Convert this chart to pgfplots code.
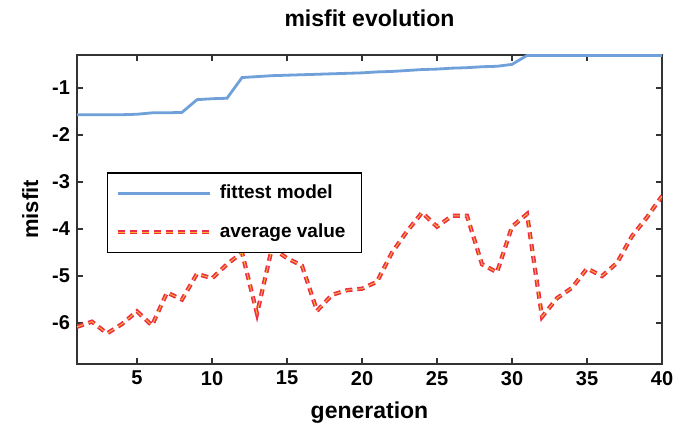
\documentclass[border=0pt]{standalone}
\usepackage{pgfplots}
\pgfplotsset{compat=1.18}
\usepackage{fontspec}
\setmainfont{Liberation Sans}

\definecolor{fitblue}{RGB}{112,160,218}
\definecolor{avgred}{RGB}{236,45,70}
\definecolor{avgyellow}{RGB}{250,175,55}

\pgfplotstableread{
gen fit
1  -1.57
2  -1.57
3  -1.57
4  -1.57
5  -1.56
6  -1.53
7  -1.53
8  -1.52
9  -1.25
10 -1.23
11 -1.22
12 -0.78
13 -0.76
14 -0.74
15 -0.73
16 -0.72
17 -0.71
18 -0.70
19 -0.69
20 -0.68
21 -0.66
22 -0.65
23 -0.63
24 -0.61
25 -0.60
26 -0.58
27 -0.57
28 -0.55
29 -0.54
30 -0.50
31 -0.31
32 -0.31
33 -0.31
34 -0.31
35 -0.31
36 -0.31
37 -0.31
38 -0.31
39 -0.31
40 -0.31
}\fittest

\pgfplotstableread{
gen avg
1  -6.08
2  -5.97
3  -6.22
4  -6.02
5  -5.75
6  -6.05
7  -5.35
8  -5.50
9  -4.95
10 -5.05
11 -4.75
12 -4.50
13 -5.80
14 -4.40
15 -4.62
16 -4.78
17 -5.74
18 -5.40
19 -5.30
20 -5.27
21 -5.12
22 -4.50
23 -4.05
24 -3.65
25 -3.95
26 -3.72
27 -3.72
28 -4.75
29 -4.92
30 -3.95
31 -3.68
32 -5.87
33 -5.47
34 -5.25
35 -4.84
36 -5.00
37 -4.72
38 -4.15
39 -3.75
40 -3.30
}\average

\begin{document}
\begin{tikzpicture}
\begin{axis}[
  name=ax, at={(0,0)}, anchor=south west,
  scale only axis, width=292.5pt, height=154.5pt,
  xmin=1, xmax=40, ymin=-6.87, ymax=-0.30,
  xtick={5,10,...,40}, ytick={-6,-5,...,-1},
  tick align=inside, tick pos=both,
  major tick length=3pt,
  axis line style={line width=0.8pt, black!80},
  every tick/.style={black!80, line width=0.6pt},
  font=\bfseries,
  tick label style={font=\bfseries\fontsize{10}{12}\selectfont},
  /pgf/number format/assume math mode=true,
  title={misfit evolution},
  title style={font=\bfseries\fontsize{11.5}{13}\selectfont, at={(0.5,1)}, anchor=base, yshift=8pt},
  xlabel={generation},
  xlabel style={font=\bfseries\fontsize{11.5}{13}\selectfont, at={(0.5,0)}, anchor=base, yshift=-27pt},
  ylabel={misfit},
  ylabel style={font=\bfseries\fontsize{11}{13}\selectfont},
  legend style={at={(0.051,0.621)}, anchor=north west, draw=black, line width=0.8pt,
    fill=white, font=\bfseries\fontsize{9.5}{11}\selectfont, row sep=7pt,
    inner xsep=4pt, inner ysep=4pt,
    nodes={inner xsep=4pt}},
  legend cell align=left,
  legend image code/.code={\draw[#1] (0pt,0pt) -- (46pt,0pt);},
]
\addplot[fitblue, line width=1.4pt] table[x=gen, y=fit] {\fittest};
\addlegendentry{fittest model}
\addplot[avgred, line width=2.1pt, dash pattern=on 3.5pt off 2.5pt,
  postaction={draw, avgyellow, line width=0.5pt, dash pattern=on 3.5pt off 2.5pt}]
  table[x=gen, y=avg] {\average};
\addlegendentry{average value}
\end{axis}
\pgfresetboundingbox
\path[use as bounding box] (-38.5pt,-31.5pt) rectangle (300.5pt,182pt);
\end{tikzpicture}
\end{document}
